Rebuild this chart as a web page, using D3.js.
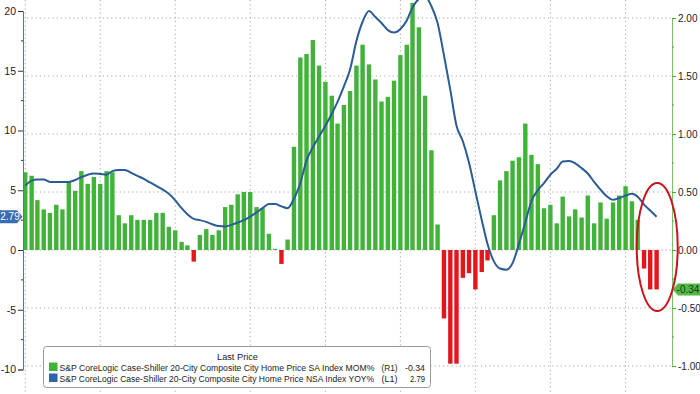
<!DOCTYPE html>
<html>
<head>
<meta charset="utf-8">
<script src="https://cdn.jsdelivr.net/npm/d3@7"></script>
<style>
  body { margin: 0; background: #fff; }
  svg { display: block; font-family: "Liberation Sans", Arial, sans-serif; }
</style>
</head>
<body>
<svg width="700" height="394"></svg>
<script>
// monthly observations, Dec 2016 .. May 2025
const months = d3.timeMonth.range(new Date(2016, 11, 1), new Date(2025, 5, 1))

// SA index MoM % (right axis)
const momValues = [
  0.67, 0.64, 0.43, 0.35, 0.32, 0.39, 0.35, 0.59, 0.51, 0.68, 0.57, 0.63,
  0.57, 0.68, 0.67, 0.30, 0.23, 0.30, 0.26, 0.26, 0.26, 0.32, 0.32, 0.20,
  0.17, 0.07, 0.04, -0.10, 0.13, 0.18, 0.13, 0.17, 0.37, 0.39, 0.48, 0.50,
  0.50, 0.37, 0.36, 0.14, 0.01, -0.12, 0.09, 0.89, 1.66, 1.69, 1.81, 1.59,
  1.45, 1.33, 1.09, 1.25, 1.37, 1.59, 1.77, 1.60, 1.47, 1.28, 1.32, 1.46,
  1.68, 1.77, 2.13, 1.92, 1.33, 0.86, 0.22, -0.59, -0.98, -0.98, -0.24, -0.20,
  -0.34, -0.19, -0.09, 0.30, 0.60, 0.68, 0.77, 0.80, 1.09, 0.82, 0.74, 0.36,
  0.39, 0.23, 0.46, 0.29, 0.35, 0.28, 0.47, 0.23, 0.41, 0.27, 0.41, 0.47,
  0.55, 0.42, 0.26, -0.16, -0.34, -0.34
]

// NSA index YoY % (left axis)
const yoyValues = [
  5.4, 5.8, 5.9, 5.9, 5.7, 5.7, 5.7, 5.7, 5.86, 6.1, 6.3, 6.4,
  6.36, 6.3, 6.6, 6.7, 6.7, 6.45, 6.2, 5.95, 5.65, 5.36, 5.05, 4.7,
  4.15, 3.5, 3.0, 2.6, 2.5, 2.35, 2.15, 2.0, 1.97, 2.1, 2.3, 2.5,
  2.8, 3.15, 3.5, 3.85, 3.85, 3.65, 3.5, 4.3, 5.6, 7.5, 8.6, 9.5,
  10.4, 11.4, 12.4, 13.7, 15.1, 17.5, 19.1, 20.0, 19.5, 19.0, 18.4, 18.2,
  18.5, 19.2, 20.3, 21.0, 21.2, 20.4, 19.0, 16.3, 13.4, 10.4, 9.1, 7.3,
  4.9, 2.5, 0.5, -0.95, -1.55, -1.65, -1.1, 0.5, 2.3, 4.1, 5.0, 5.6,
  6.3, 6.8, 7.4, 7.45, 7.25, 6.85, 6.4, 5.7, 5.05, 4.5, 4.2, 4.35,
  4.55, 4.7, 4.45, 3.8, 3.3, 2.79
]

const leftTicks = [-10, -5, 0, 5, 10, 15, 20]
const rightTicks = [-1, -0.5, 0, 0.5, 1, 1.5, 2]

const legendTitle = "Last Price"
const seriesNames = [
  "S&P CoreLogic Case-Shiller 20-City Composite City Home Price SA Index MOM%",
  "S&P CoreLogic Case-Shiller 20-City Composite City Home Price NSA Index YOY%"
]
const seriesAxes = ["(R1)", "(L1)"]
const lastMom = momValues[momValues.length - 1]
const lastYoy = yoyValues[yoyValues.length - 1]

const green = "#41b33a",
      red = "#e3161d",
      blue = "#2b5c95",
      grid = "#a8a8a8"

const svg = d3.select("svg")

const left = 23, right = 672

const x = d3.scaleTime()
    .domain([new Date(2016, 11, 21), new Date(2025, 7, 15)])
    .range([left, right])

const yL = d3.scaleLinear().domain([-10, 20]).range([369.5, 11])
const yR = d3.scaleLinear().domain([-1, 2]).range([366, 18])

// bars are plotted at month end
const xm = d => x(d3.timeMonth.offset(d, 1))

const rows = months.map((m, i) => ({ month: m, mom: momValues[i], yoy: yoyValues[i] }))

//
// grid
//
svg.append("g")
    .selectAll("line")
    .data(x.ticks(d3.timeYear))
    .enter().append("line")
      .attr("x1", d => x(d)).attr("x2", d => x(d))
      .attr("y1", 0).attr("y2", 394)
      .attr("stroke", grid)
      .attr("stroke-dasharray", "1.2,3")

svg.append("g")
    .selectAll("line")
    .data(rightTicks)
    .enter().append("line")
      .attr("x1", left).attr("x2", right)
      .attr("y1", d => yR(d)).attr("y2", d => yR(d))
      .attr("stroke", grid)
      .attr("stroke-dasharray", "1.2,3")

//
// bars
//
const bw = 4.4
svg.append("g")
    .selectAll("rect")
    .data(rows)
    .enter().append("rect")
      .attr("x", d => xm(d.month) - bw / 2)
      .attr("width", bw)
      .attr("y", d => yR(Math.max(0, d.mom)))
      .attr("height", d => Math.abs(yR(d.mom) - yR(0)))
      .attr("fill", d => d.mom < 0 ? red : green)

//
// line
//
const line = d3.line()
    .x(d => xm(d.month))
    .y(d => yL(d.yoy))
    .curve(d3.curveMonotoneX)

svg.append("path")
    .datum(rows)
    .attr("d", line)
    .attr("fill", "none")
    .attr("stroke", blue)
    .attr("stroke-width", 2)

//
// axes
//
const axL = svg.append("g")
    .attr("transform", `translate(${left},0)`)
    .call(d3.axisLeft(yL).tickValues(leftTicks).tickSize(5).tickPadding(2).tickFormat(d => String(d)))
axL.select(".domain").attr("stroke", "#4f77a8")
axL.selectAll(".tick line").attr("stroke", "#333")
axL.selectAll("text").attr("font-size", 10.5).attr("fill", "#222").attr("font-family", null)

axL.append("g")
    .selectAll("line")
    .data(d3.range(-12.5, 21, 2.5).filter(v => v % 5 !== 0))
    .enter().append("line")
      .attr("x1", -2).attr("x2", 0)
      .attr("y1", d => yL(d)).attr("y2", d => yL(d))
      .attr("stroke", "#333")

const axR = svg.append("g")
    .attr("transform", `translate(${right},0)`)
    .call(d3.axisRight(yR).tickValues(rightTicks).tickSize(4).tickPadding(2).tickFormat(d => d.toFixed(2)))
axR.select(".domain").attr("stroke", "#7cc46a")
axR.selectAll(".tick line").attr("stroke", "#4aa83a")
axR.selectAll("text").attr("font-size", 10).attr("fill", "#222").attr("font-family", null)

axR.append("g")
    .selectAll("line")
    .data(d3.range(-1.25, 2.3, 0.25).filter(v => Math.abs(v * 2 - Math.round(v * 2)) > 0.01))
    .enter().append("line")
      .attr("x1", 0).attr("x2", 2)
      .attr("y1", d => yR(d)).attr("y2", d => yR(d))
      .attr("stroke", "#4aa83a")

//
// last value tags
//
const ty = yL(lastYoy)
svg.append("path")
    .attr("d", `M0,${ty - 6.5}H17L22.5,${ty}L17,${ty + 6.5}H0Z`)
    .attr("fill", "#3a6db0")
svg.append("text")
    .attr("x", 10).attr("y", ty + 3.5)
    .attr("text-anchor", "middle")
    .attr("font-size", 10).attr("fill", "#fff")
    .text(lastYoy.toFixed(2))

const ry = yR(lastMom)
svg.append("path")
    .attr("d", `M${right + 0.5},${ry}L${right + 6},${ry - 6}H700V${ry + 6}H${right + 6}Z`)
    .attr("fill", "#52b947")
svg.append("text")
    .attr("x", 688).attr("y", ry + 3.5)
    .attr("text-anchor", "middle")
    .attr("font-size", 10).attr("fill", "#1a3a12")
    .text(lastMom.toFixed(2))

//
// highlight ellipse round the last three months
//
svg.append("ellipse")
    .attr("cx", xm(months[100]) + 7)
    .attr("cy", yR(0) - 3)
    .attr("rx", 20.5)
    .attr("ry", 64)
    .attr("fill", "none")
    .attr("stroke", "#c8141c")
    .attr("stroke-width", 2)

//
// legend
//
const lg = svg.append("g")
lg.append("rect")
    .attr("x", 43.5).attr("y", 346.5)
    .attr("width", 387).attr("height", 41)
    .attr("rx", 3)
    .attr("fill", "#fff").attr("fill-opacity", 0.92)
    .attr("stroke", "#9a9a9a")

// the legend font is a narrow one: squeeze each text horizontally to its width
function squeezed(str, x0, y0, w, anchor) {
  const t = lg.append("text")
      .attr("font-size", 9.5).attr("fill", "#222")
      .text(str)
  const s = Math.min(1, w / t.node().getComputedTextLength())
  const xs = anchor === "end" ? x0 - w : x0
  t.attr("transform", `translate(${xs},${y0}) scale(${s},1)`)
  return t
}

squeezed(legendTitle, 217, 360, 41)

const lastVals = [lastMom.toFixed(2), lastYoy.toFixed(2)]
const swatch = [green, "#2f64a8"]
seriesNames.forEach((name, i) => {
  const yy = 371 + i * 11
  lg.append("rect")
      .attr("x", 49).attr("y", yy - 8.5)
      .attr("width", 8.5).attr("height", 8.5)
      .attr("fill", swatch[i])
  squeezed(name, 59.5, yy, 315)
  squeezed(seriesAxes[i], 381.5, yy, 16)
  squeezed(lastVals[i], 425, yy, i === 0 ? 20 : 15, "end")
})
</script>
</body>
</html>
